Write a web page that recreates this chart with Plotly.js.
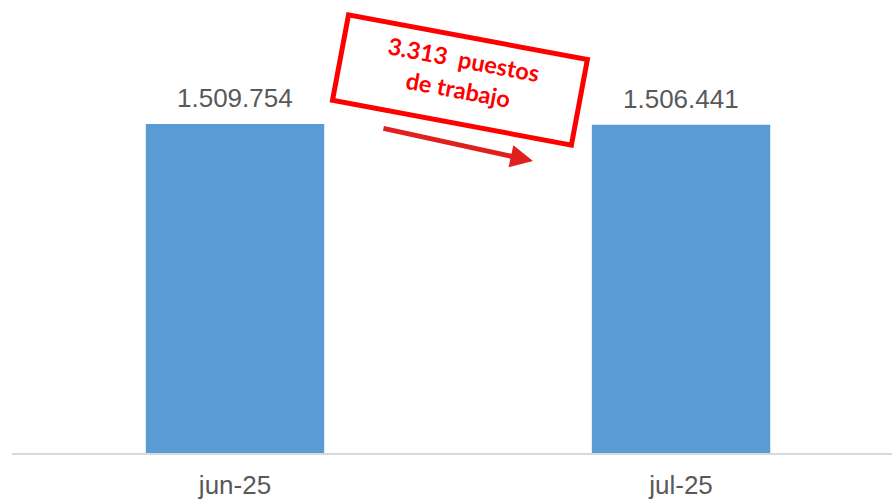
<!DOCTYPE html>
<html>
<head>
<meta charset="utf-8">
<script src="https://cdn.plot.ly/plotly-3.0.1.min.js"></script>
<style>html,body{margin:0;padding:0;background:#fff;}#chart{width:892px;height:499px;}</style>
</head>
<body>
<div id="chart"></div>
<script>
const categories = ['jun-25', 'jul-25'];
const puestos = [1509754, 1506441];
const noteLines = ['3.313  puestos', 'de trabajo'];

const fmt = v => v.toLocaleString('de-DE');

const trace = {
  type: 'bar',
  x: categories,
  y: puestos,
  marker: {color: '#5b9bd5'},
  hoverinfo: 'none'
};

const valueLabels = categories.map((c, i) => ({
  x: c, y: puestos[i], xref: 'x', yref: 'y',
  text: fmt(puestos[i]), showarrow: false,
  xanchor: 'center', yanchor: 'bottom', yshift: 9,
  font: {family: 'Liberation Sans, Arial, sans-serif', size: 26, color: '#595959'}
}));

const layout = {
  width: 892, height: 499,
  margin: {l: 12, r: 0, t: 10, b: 46},
  paper_bgcolor: '#ffffff', plot_bgcolor: '#ffffff',
  separators: ',.',
  bargap: 0.6,
  showlegend: false,
  xaxis: {
    type: 'category',
    range: [-0.5, 1.473],
    showline: true, linecolor: '#d9d9d9', linewidth: 2,
    showgrid: false, zeroline: false, ticks: '',
    ticklabelstandoff: 8,
    tickfont: {family: 'Liberation Sans, Arial, sans-serif', size: 26, color: '#595959'},
    fixedrange: true
  },
  yaxis: {
    range: [0, 2032800],
    showgrid: false, zeroline: false, showline: false,
    showticklabels: false, ticks: '', fixedrange: true
  },
  annotations: valueLabels.concat([
    {
      xref: 'paper', yref: 'paper', x: 0.5094, y: 0.8426,
      xanchor: 'center', yanchor: 'middle',
      text: '<b>' + noteLines.join('<br>') + '</b>',
      showarrow: false,
      textangle: 10.6,
      width: 226, height: 70, valign: 'top',
      bordercolor: '#ff0000', borderwidth: 5, borderpad: 6,
      bgcolor: 'rgba(255,255,255,0)',
      font: {family: 'Lato, Open Sans, sans-serif', size: 23.5, color: '#ff0000'}
    },
    {
      xref: 'paper', yref: 'paper', x: 0.592, y: 0.659,
      text: '', showarrow: true,
      ax: -151, ay: -33,
      arrowcolor: '#e0201c', arrowwidth: 5, arrowhead: 2, arrowsize: 0.9,
      standoff: 0
    }
  ])
};

Plotly.newPlot('chart', [trace], layout, {staticPlot: true, displayModeBar: false});
</script>
</body>
</html>
